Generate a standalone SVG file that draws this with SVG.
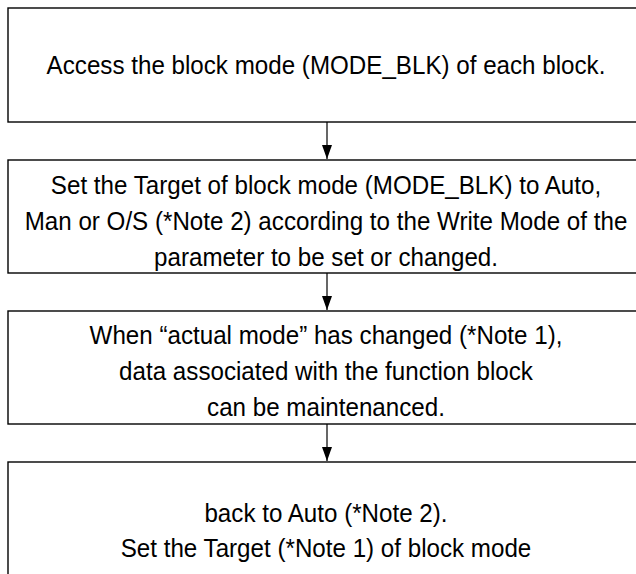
<svg xmlns="http://www.w3.org/2000/svg" width="636" height="574" viewBox="0 0 636 574">
  <style>
    .box { fill: #ffffff; stroke: #000000; stroke-width: 1.4; }
    .lbl { font-family: "Liberation Sans", Arial, sans-serif; font-size: 26px; fill: #000000; text-anchor: middle; }
    .conn { stroke: #000000; stroke-width: 1.2; fill: none; }
  </style>
  <defs>
    <marker id="arrow" viewBox="0 0 14 10" refX="14" refY="5" markerWidth="14" markerHeight="10" markerUnits="userSpaceOnUse" orient="auto">
      <path d="M0,0 L14,5 L0,10 Z" fill="#000000"/>
    </marker>
  </defs>
  <rect width="636" height="574" fill="#ffffff"/>

  <g id="step1">
    <rect class="box" x="8" y="8" width="660" height="114"/>
    <text class="lbl" transform="translate(326,74) scale(0.93,1)">Access the block mode (MODE_BLK) of each block.</text>
  </g>

  <g id="step2">
    <rect class="box" x="8" y="160" width="660" height="113"/>
    <text class="lbl" transform="translate(326,194) scale(0.93,1)">Set the Target of block mode (MODE_BLK) to Auto,</text>
    <text class="lbl" transform="translate(326,230) scale(0.93,1)">Man or O/S (*Note 2) according to the Write Mode of the</text>
    <text class="lbl" transform="translate(326,266) scale(0.93,1)">parameter to be set or changed.</text>
  </g>

  <g id="step3">
    <rect class="box" x="8" y="311" width="660" height="113"/>
    <text class="lbl" transform="translate(326,344) scale(0.93,1)">When “actual mode” has changed (*Note 1),</text>
    <text class="lbl" transform="translate(326,380) scale(0.93,1)">data associated with the function block</text>
    <text class="lbl" transform="translate(326,416) scale(0.93,1)">can be maintenanced.</text>
  </g>

  <g id="step4">
    <rect class="box" x="8" y="462" width="660" height="140"/>
    <text class="lbl" transform="translate(326,522) scale(0.93,1)">back to Auto (*Note 2).</text>
    <text class="lbl" transform="translate(326,557) scale(0.93,1)">Set the Target (*Note 1) of block mode</text>
  </g>

  <g id="connectors">
    <line class="conn" x1="327" y1="122" x2="327" y2="159" marker-end="url(#arrow)"/>
    <line class="conn" x1="327" y1="273" x2="327" y2="310" marker-end="url(#arrow)"/>
    <line class="conn" x1="327" y1="424" x2="327" y2="461" marker-end="url(#arrow)"/>
  </g>
</svg>
